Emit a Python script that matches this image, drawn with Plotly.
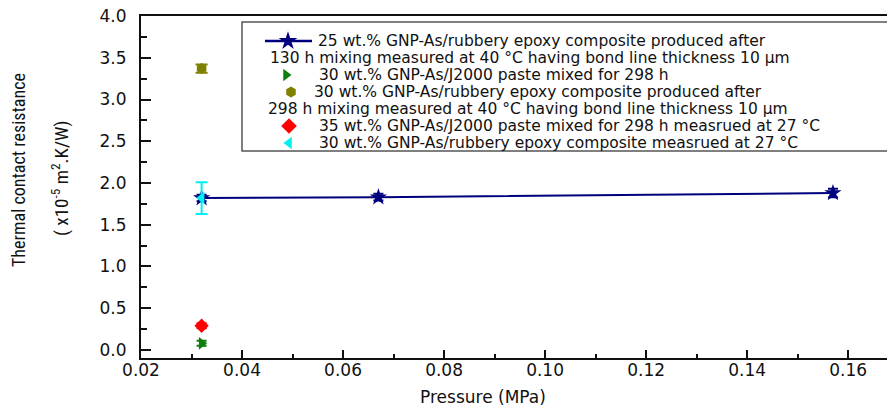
import plotly.graph_objects as go

# ---------------- data ----------------
p_25rub = [0.032, 0.067, 0.157]
r_25rub = [1.82, 1.83, 1.88]
e_25rub = [0.04, 0.04, 0.05]

p_30paste = [0.032]
r_30paste = [0.08]
e_30paste = [0.03]

p_30rub = [0.032]
r_30rub = [3.37]
e_30rub = [0.05]

p_35paste = [0.032]
r_35paste = [0.29]
e_35paste = [0.03]

p_30rub27 = [0.032]
r_30rub27 = [1.82]
e_30rub27 = [0.19]

legend_lines = [
    "25 wt.% GNP-As/rubbery epoxy composite produced after",
    "130 h mixing measured at 40 °C having bond line thickness 10 µm",
    "30 wt.% GNP-As/J2000 paste mixed for 298 h",
    "30 wt.% GNP-As/rubbery epoxy composite produced after",
    "298 h mixing measured at 40 °C having bond line thickness 10 µm",
    "35 wt.% GNP-As/J2000 paste mixed for 298 h measrued at 27 °C",
    "30 wt.% GNP-As/rubbery epoxy composite measrued at 27 °C",
]

x_ticks = [0.02, 0.04, 0.06, 0.08, 0.10, 0.12, 0.14, 0.16]
y_ticks = [0.0, 0.5, 1.0, 1.5, 2.0, 2.5, 3.0, 3.5, 4.0]

NAVY = "#00007f"
GREEN = "#0f7d0f"
OLIVE = "#808000"
RED = "#ff0000"
CYAN = "#00f0f0"

# ---------------- layout geometry ----------------
W, H = 887, 408
L, R, T, B = 141, 0, 16, 50
PW, PH = W - L - R, H - T - B


def px(x):
    return (x - L) / PW


def py(y):
    return (H - B - y) / PH


TICKFONT = dict(family="DejaVu Sans, Liberation Sans, Arial", size=17, color="#111")
TXTFONT = dict(family="DejaVu Sans, Liberation Sans, Arial", size=15.5, color="#111")

fig = go.Figure()


def err(vals, color, width=5):
    return dict(type="data", array=vals, visible=True, color=color, thickness=2, width=width)


fig.add_trace(go.Scatter(
    x=p_25rub, y=r_25rub, mode="lines+markers",
    line=dict(color=NAVY, width=2),
    marker=dict(symbol="star", size=13, color=NAVY),
    error_y=err(e_25rub, NAVY, 5), showlegend=False))
fig.add_trace(go.Scatter(
    x=p_30paste, y=r_30paste, mode="markers",
    marker=dict(symbol="triangle-right", size=11, color=GREEN),
    error_y=err(e_30paste, GREEN, 5), showlegend=False))
fig.add_trace(go.Scatter(
    x=p_30rub, y=r_30rub, mode="markers",
    marker=dict(symbol="hexagon", size=11, color=OLIVE),
    error_y=err(e_30rub, OLIVE, 6), showlegend=False))
fig.add_trace(go.Scatter(
    x=p_35paste, y=r_35paste, mode="markers",
    marker=dict(symbol="diamond", size=11, color=RED),
    error_y=err(e_35paste, RED, 5), showlegend=False))
fig.add_trace(go.Scatter(
    x=p_30rub27, y=r_30rub27, mode="markers",
    marker=dict(symbol="triangle-left", size=11, color=CYAN),
    error_y=err(e_30rub27, CYAN, 6), showlegend=False))

# ---- legend symbols drawn on an overlay (paper-like) axis pair ----
LEG_TOP, LEG_STEP = 41, 17
leg_y = [LEG_TOP + i * LEG_STEP for i in range(7)]
sym_x = {0: 288, 2: 286, 3: 291, 5: 289, 6: 289}
sym_def = {0: ("star", NAVY, 14), 2: ("triangle-right", GREEN, 11),
           3: ("hexagon", OLIVE, 11), 5: ("diamond", RED, 12),
           6: ("triangle-left", CYAN, 11)}
fig.add_trace(go.Scatter(
    x=[px(265), px(312)], y=[py(leg_y[0]), py(leg_y[0])], mode="lines",
    line=dict(color=NAVY, width=2.5), xaxis="x2", yaxis="y2",
    showlegend=False, hoverinfo="skip"))
for i, (sym, col, sz) in sym_def.items():
    fig.add_trace(go.Scatter(
        x=[px(sym_x[i])], y=[py(leg_y[i])], mode="markers",
        marker=dict(symbol=sym, color=col, size=sz), xaxis="x2", yaxis="y2",
        showlegend=False, hoverinfo="skip"))

text_x = [316, 268, 317, 312, 266, 317, 317]
annotations = []
for i, t in enumerate(legend_lines):
    annotations.append(dict(
        text=t, x=px(text_x[i]), y=py(leg_y[i]), xref="paper", yref="paper",
        xanchor="left", yanchor="middle", showarrow=False, font=TXTFONT))

# axis titles
YTFONT = dict(family="Liberation Sans Narrow, Arial Narrow, Roboto Condensed, Liberation Sans",
              size=18, color="#111")
annotations.append(dict(text="Thermal contact resistance", textangle=-90,
                        x=px(18), y=py(170), xref="paper", yref="paper",
                        xanchor="center", yanchor="middle", showarrow=False, font=YTFONT))
annotations.append(dict(text="( x10<sup>-5</sup> m<sup>2</sup>.K/W)", textangle=-90,
                        x=px(60), y=py(178), xref="paper", yref="paper",
                        xanchor="center", yanchor="middle", showarrow=False,
                        font=dict(YTFONT, size=19)))
annotations.append(dict(text="Pressure (MPa)", x=px(483), y=py(397), xref="paper", yref="paper",
                        xanchor="center", yanchor="middle", showarrow=False,
                        font=dict(family="DejaVu Sans, Liberation Sans, Arial", size=17, color="#111")))

shapes = [dict(type="rect", xref="paper", yref="paper",
               x0=px(242), x1=px(900), y0=py(151), y1=py(22),
               line=dict(color="#555", width=1.5), fillcolor="white", layer="below")]

fig.update_layout(
    width=W, height=H, autosize=False,
    margin=dict(l=L, r=R, t=T, b=B),
    paper_bgcolor="white", plot_bgcolor="white",
    showlegend=False,
    xaxis=dict(range=[0.02, 0.1677], tickvals=x_ticks, ticktext=[f"{v:.2f}" for v in x_ticks],
               ticks="inside", ticklen=8, tickwidth=2, tickcolor="#111",
               showline=True, linecolor="#111", linewidth=2, mirror=True,
               showgrid=False, zeroline=False, tickfont=TICKFONT,
               ticklabelstandoff=-4,
               minor=dict(dtick=0.01, tick0=0.02, ticks="inside", ticklen=4, tickwidth=2,
                          tickcolor="#111", showgrid=False)),
    yaxis=dict(range=[-0.096, 4.0], tickvals=y_ticks, ticktext=[f"{v:.1f}" for v in y_ticks],
               ticks="inside", ticklen=10, tickwidth=2, tickcolor="#111",
               showline=True, linecolor="#111", linewidth=2, mirror=False,
               showgrid=False, zeroline=False, tickfont=TICKFONT,
               ticklabelstandoff=9,
               minor=dict(dtick=0.25, tick0=0, ticks="inside", ticklen=6, tickwidth=2,
                          tickcolor="#111", showgrid=False)),
    xaxis2=dict(range=[0, 1], overlaying="x", visible=False, fixedrange=True),
    yaxis2=dict(range=[0, 1], overlaying="y", visible=False, fixedrange=True),
    annotations=annotations,
    shapes=shapes,
)

fig.write_html("out.html", config={"displayModeBar": False},
               post_script="document.body.style.margin='0';document.body.style.overflow='hidden';")
